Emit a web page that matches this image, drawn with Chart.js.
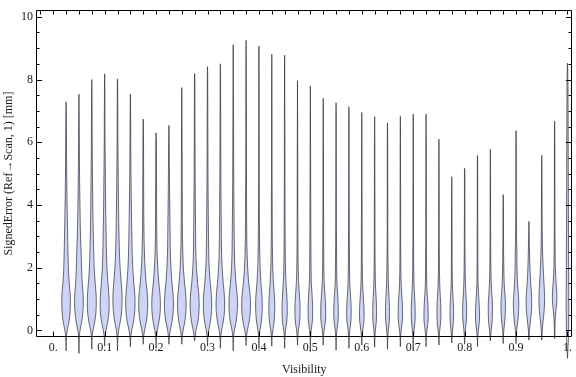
<!DOCTYPE html>
<html>
<head>
<meta charset="utf-8">
<script src="https://cdn.jsdelivr.net/npm/chart.js@4/dist/chart.umd.min.js"></script>
<style>
  html, body { margin: 0; padding: 0; background: #fff; }
  canvas { display: block; }
</style>
</head>
<body>
<canvas id="grafica" width="576" height="377"></canvas>
<script>
// posiciones de cada violín (Visibility)
const visibility = [0.025, 0.05, 0.075, 0.1, 0.125, 0.15, 0.175, 0.2, 0.225, 0.25,
  0.275, 0.3, 0.325, 0.35, 0.375, 0.4, 0.425, 0.45, 0.475, 0.5,
  0.525, 0.55, 0.575, 0.6, 0.625, 0.65, 0.675, 0.7, 0.725, 0.75,
  0.775, 0.8, 0.825, 0.85, 0.875, 0.9, 0.925, 0.95, 0.975, 1.0];

// extremo superior e inferior de cada violín [mm]
const errMax = [7.29, 7.53, 8.0, 8.18, 8.02, 7.53, 6.74, 6.3, 6.54, 7.74,
  8.19, 8.41, 8.5, 9.11, 9.25, 9.07, 8.81, 8.78, 7.96, 7.8,
  7.4, 7.26, 7.13, 6.95, 6.82, 6.61, 6.84, 6.9, 6.9, 6.1,
  4.9, 5.17, 5.58, 5.77, 4.33, 6.37, 3.48, 5.58, 6.67, 8.52];
const errMin = [-0.65, -0.73, -0.6, -0.5, -0.65, -0.52, -0.44, -0.57, -0.44, -0.44,
  -0.33, -0.5, -0.57, -0.65, -0.48, -0.58, -0.5, -0.57, -0.47, -0.68,
  -0.47, -0.63, -0.57, -0.47, -0.54, -0.6, -0.52, -0.63, -0.52, -0.47,
  -0.4, -0.44, -0.52, -0.33, -0.42, -0.42, -0.31, -0.31, -0.26, -0.89];

// niveles donde se leyó la densidad (medio ancho) de cada violín
const densityLevels = [-0.2, 0, 0.3, 0.6, 0.9, 1.2, 1.5, 2, 2.5, 3, 4, 5, 6, 7, 8, 9];
const density = [
  [0.4, 1.2, 3.0, 4.0, 4.3, 4.0, 3.2, 2.3, 1.9, 1.6, 1.0, 0.6, 0.4, 0.2],
  [0.4, 1.1, 2.9, 4.0, 4.4, 4.1, 3.3, 2.6, 2.2, 1.6, 1.0, 0.6, 0.4, 0.2],
  [0.4, 1.2, 3.1, 4.2, 4.5, 4.2, 3.4, 2.4, 1.9, 1.5, 1.0, 0.7, 0.4, 0.3, 0.1],
  [0.4, 1.3, 3.2, 4.3, 4.5, 4.1, 3.3, 2.3, 1.8, 1.5, 1.0, 0.7, 0.4, 0.3, 0.1],
  [0.4, 1.1, 2.9, 4.1, 4.6, 4.5, 3.8, 2.6, 1.9, 1.5, 1.0, 0.7, 0.4, 0.3, 0.1],
  [0.4, 1.3, 3.3, 4.4, 4.7, 4.3, 3.5, 2.4, 1.8, 1.5, 1.0, 0.6, 0.4, 0.2],
  [0.4, 1.3, 3.2, 4.3, 4.5, 4.0, 3.0, 1.8, 1.2, 0.8, 0.5, 0.4, 0.3],
  [0.4, 1.2, 3.0, 4.1, 4.3, 3.8, 2.8, 1.7, 1.0, 0.7, 0.5, 0.4, 0.3],
  [0.4, 1.3, 3.2, 4.3, 4.5, 4.0, 3.1, 2.0, 1.4, 1.2, 0.8, 0.5, 0.3],
  [0.4, 1.3, 3.1, 4.1, 4.3, 3.8, 2.8, 1.6, 1.0, 0.7, 0.5, 0.4, 0.3, 0.2],
  [0.5, 1.4, 3.3, 4.3, 4.5, 4.0, 3.0, 1.8, 1.2, 1.0, 0.7, 0.5, 0.4, 0.3, 0.2],
  [0.4, 1.2, 3.0, 4.0, 4.2, 3.7, 2.8, 1.7, 1.2, 1.0, 0.7, 0.5, 0.4, 0.3, 0.2],
  [0.4, 1.2, 3.0, 4.1, 4.3, 3.8, 2.9, 1.8, 1.2, 1.0, 0.7, 0.5, 0.4, 0.3, 0.2],
  [0.4, 1.2, 3.0, 4.0, 4.3, 3.8, 2.8, 1.7, 1.2, 1.0, 0.7, 0.5, 0.4, 0.3, 0.2, 0.1],
  [0.4, 1.3, 3.2, 4.2, 4.4, 3.8, 2.7, 1.6, 1.0, 0.7, 0.5, 0.4, 0.3, 0.3, 0.2, 0.1],
  [0.3, 1.0, 2.5, 3.2, 3.3, 2.8, 2.0, 1.2, 0.8, 0.6, 0.4, 0.3, 0.3, 0.2, 0.2, 0.1],
  [0.3, 1.0, 2.4, 2.9, 2.9, 2.4, 1.7, 1.0, 0.7, 0.5, 0.4, 0.3, 0.3, 0.2, 0.1],
  [0.3, 0.9, 2.2, 2.6, 2.5, 2.0, 1.4, 0.8, 0.6, 0.5, 0.4, 0.3, 0.3, 0.2, 0.1],
  [0.3, 0.9, 2.2, 2.6, 2.4, 1.8, 1.2, 0.7, 0.5, 0.4, 0.3, 0.3, 0.2, 0.1],
  [0.3, 0.8, 2.0, 2.3, 2.1, 1.6, 1.0, 0.7, 0.6, 0.5, 0.4, 0.3, 0.2, 0.1],
  [0.3, 0.9, 2.2, 2.5, 2.2, 1.6, 1.0, 0.6, 0.5, 0.4, 0.3, 0.3, 0.2, 0.1],
  [0.3, 0.8, 2.0, 2.3, 2.0, 1.5, 0.9, 0.6, 0.5, 0.4, 0.3, 0.3, 0.2, 0.1],
  [0.3, 0.8, 2.0, 2.3, 2.0, 1.4, 0.9, 0.6, 0.5, 0.4, 0.3, 0.2, 0.2, 0.1],
  [0.3, 0.9, 2.1, 2.3, 1.9, 1.3, 0.8, 0.5, 0.4, 0.4, 0.3, 0.2, 0.2],
  [0.3, 0.7, 1.7, 1.9, 1.7, 1.2, 0.8, 0.5, 0.4, 0.3, 0.3, 0.2, 0.2],
  [0.3, 0.8, 1.8, 2.0, 1.8, 1.3, 0.9, 0.6, 0.4, 0.3, 0.3, 0.2, 0.2],
  [0.3, 0.8, 2.0, 2.2, 1.9, 1.3, 0.8, 0.5, 0.4, 0.3, 0.3, 0.2, 0.2],
  [0.3, 0.8, 1.8, 2.0, 1.7, 1.2, 0.8, 0.5, 0.4, 0.3, 0.3, 0.2, 0.2],
  [0.3, 0.9, 2.0, 2.1, 1.7, 1.1, 0.7, 0.5, 0.4, 0.3, 0.3, 0.2, 0.2],
  [0.3, 0.8, 1.8, 2.0, 1.7, 1.2, 0.8, 0.5, 0.4, 0.3, 0.3, 0.2, 0.1],
  [0.3, 0.8, 1.6, 1.8, 1.5, 1.0, 0.6, 0.4, 0.3, 0.3, 0.2],
  [0.3, 0.7, 1.7, 2.0, 1.8, 1.2, 0.8, 0.5, 0.4, 0.3, 0.2, 0.2],
  [0.3, 0.9, 1.9, 2.0, 1.6, 1.0, 0.6, 0.4, 0.3, 0.3, 0.2, 0.2],
  [0.3, 0.8, 1.8, 2.1, 2.0, 1.4, 0.9, 0.5, 0.4, 0.3, 0.2, 0.2],
  [0.2, 0.6, 1.6, 2.1, 2.2, 1.6, 1.0, 0.6, 0.4, 0.3, 0.2],
  [0.2, 0.6, 1.8, 2.5, 2.7, 2.2, 1.5, 1.0, 0.8, 0.5, 0.3, 0.2, 0.2],
  [0.2, 0.5, 1.5, 2.5, 2.8, 2.5, 1.8, 1.0, 0.6, 0.3],
  [0.2, 0.5, 1.3, 2.3, 2.8, 2.7, 2.2, 1.4, 0.8, 0.5, 0.3, 0.2],
  [0.2, 0.3, 0.5, 1.2, 2.1, 2.2, 1.5, 0.7, 0.5, 0.4, 0.3, 0.2, 0.2],
  [1.0, 1.1, 1.2, 1.3, 1.3, 1.3, 1.2, 1.2, 1.1, 1.0, 0.9, 0.8, 0.7, 0.6, 0.4]
];

// marcas de los ejes
const xTickValues = [0, 0.1, 0.2, 0.3, 0.4, 0.5, 0.6, 0.7, 0.8, 0.9, 1.0];
const xTickLabels = ['0.', '0.1', '0.2', '0.3', '0.4', '0.5', '0.6', '0.7', '0.8', '0.9', '1.'];
const yTickValues = [0, 2, 4, 6, 8, 10];
const yTickLabels = ['0', '2', '4', '6', '8', '10'];

const widthUnit = 0.00194; // visibilidad por unidad de densidad (~1 px)
const serif = "'Liberation Serif', 'DejaVu Serif', serif";

// contorno cerrado de cada violín: sube por la derecha y baja por la izquierda
function contornoViolin(i) {
    const v = visibility[i];
    const lados = [];
    densityLevels.forEach((nivel, k) => {
        const w = density[i][k];
        if (w !== undefined && nivel > errMin[i] && nivel < errMax[i]) {
            lados.push({ y: nivel, w: w * widthUnit });
        }
    });
    const puntos = [{ x: v, y: errMin[i] }];
    lados.forEach(p => puntos.push({ x: v + p.w, y: p.y }));
    puntos.push({ x: v, y: errMax[i] });
    lados.slice().reverse().forEach(p => puntos.push({ x: v - p.w, y: p.y }));
    puntos.push({ x: v, y: errMin[i] });
    return puntos;
}

const datasets = visibility.map((v, i) => ({
    data: contornoViolin(i),
    borderColor: 'rgba(40,40,50,0.68)',
    borderWidth: 1,
    borderJoinStyle: 'round',
    backgroundColor: 'rgb(205,212,246)',
    fill: 'shape',
    tension: 0.35,
    capBezierPoints: false,
    pointRadius: 0,
    clip: false
}));

// marco con marcas hacia dentro, como en Mathematica
const marcoPlugin = {
    id: 'marco',
    afterDraw(chart) {
        const { ctx, chartArea: a, scales: { x, y } } = chart;
        const L = Math.round(a.left) + 0.5, R = Math.round(a.right) - 0.5;
        const T = Math.round(a.top) + 0.5, B = Math.round(a.bottom) - 0.5;
        ctx.save();
        ctx.strokeStyle = '#000';
        ctx.lineWidth = 1;
        ctx.beginPath();
        ctx.rect(L, T, R - L, B - T);
        // eje y: mayores cada 2, menores cada 0.5
        for (let k = 0; k <= 20; k++) {
            const val = k * 0.5;
            const py = Math.round(y.getPixelForValue(val)) + 0.5;
            const len = (val % 2 === 0) ? 5.5 : 3;
            ctx.moveTo(L, py); ctx.lineTo(L + len, py);
            ctx.moveTo(R, py); ctx.lineTo(R - len, py);
        }
        // eje x abajo: mayores
        xTickValues.forEach(val => {
            const px = Math.round(x.getPixelForValue(val)) + 0.5;
            ctx.moveTo(px, B); ctx.lineTo(px, B - 5);
        });
        // arriba: una marca por cada posición
        for (let k = -1; k <= 40; k++) {
            const px = Math.round(x.getPixelForValue(k * 0.025)) + 0.5;
            ctx.moveTo(px, T); ctx.lineTo(px, T + 4);
        }
        ctx.stroke();
        ctx.restore();
    }
};

const ctx = document.getElementById('grafica').getContext('2d');
const chart = new Chart(ctx, {
    type: 'line',
    data: { datasets: datasets },
    options: {
        responsive: false,
        animation: false,
        devicePixelRatio: 1,
        layout: { padding: { top: 4, right: 1, left: 0, bottom: 0 } },
        plugins: {
            legend: { display: false },
            tooltip: { enabled: false }
        },
        scales: {
            x: {
                type: 'linear',
                min: -0.0335,
                max: 1.0097,
                grid: { display: false, drawTicks: false },
                border: { display: false },
                afterBuildTicks: s => { s.ticks = xTickValues.map(v => ({ value: v })); },
                afterFit: s => { s.height = 40; },
                ticks: {
                    padding: 4,
                    maxRotation: 0,
                    autoSkip: false,
                    color: '#1a1a1a',
                    font: { family: serif, size: 12 },
                    callback: (val) => xTickLabels[xTickValues.indexOf(val)]
                },
                title: {
                    display: true,
                    text: 'Visibility',
                    color: '#1a1a1a',
                    font: { family: serif, size: 12 },
                    padding: { top: 0, bottom: 0 }
                }
            },
            y: {
                type: 'linear',
                min: -0.21,
                max: 10.21,
                grid: { display: false, drawTicks: false },
                border: { display: false },
                afterBuildTicks: s => { s.ticks = yTickValues.map(v => ({ value: v })); },
                afterFit: s => { s.width = 36; },
                ticks: {
                    padding: 3,
                    color: '#1a1a1a',
                    font: { family: serif, size: 12 },
                    callback: (val) => yTickLabels[yTickValues.indexOf(val)]
                },
                title: {
                    display: true,
                    text: 'SignedError (Ref\u2192Scan, 1) [mm]',
                    color: '#1a1a1a',
                    font: { family: serif, size: 12 },
                    padding: { top: 2, bottom: 0 }
                }
            }
        }
    },
    plugins: [marcoPlugin]
});
</script>
</body>
</html>
